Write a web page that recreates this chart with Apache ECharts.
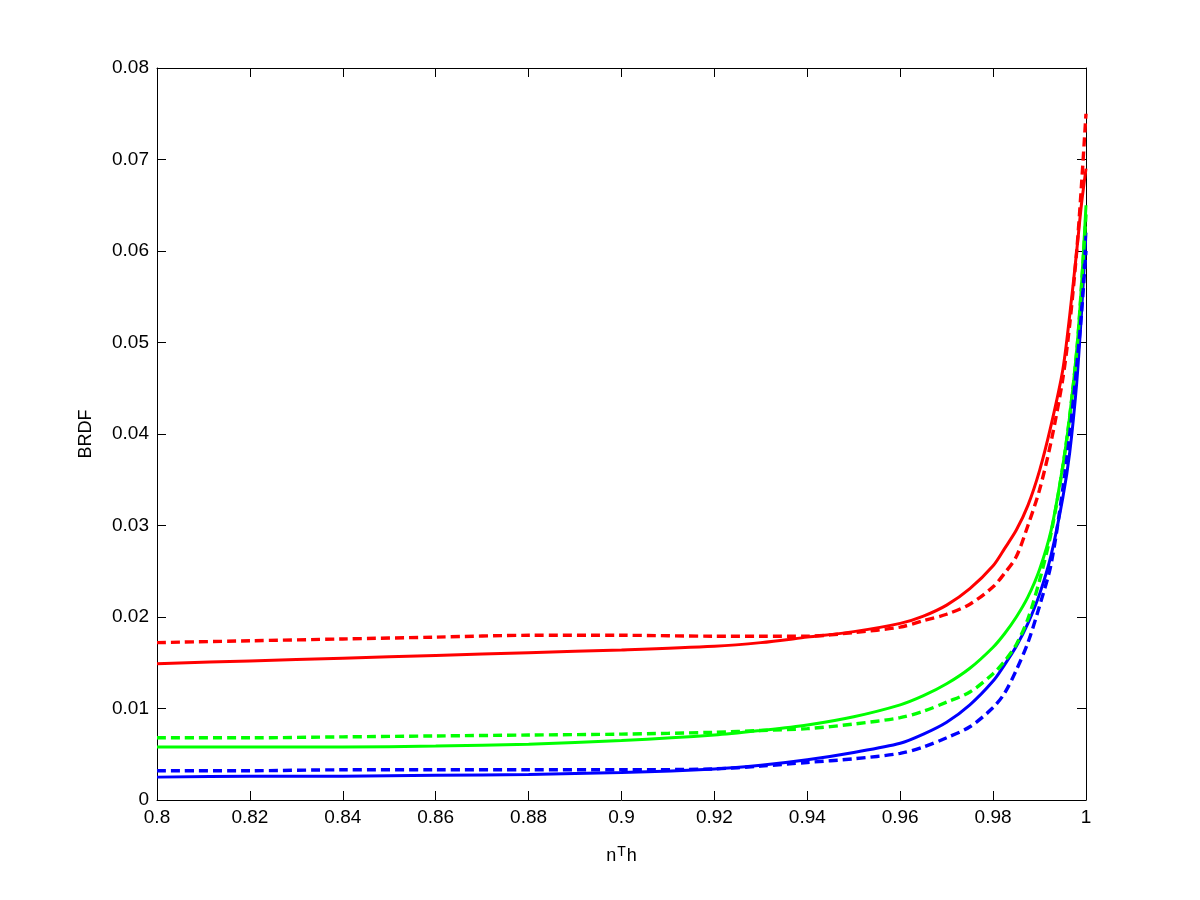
<!DOCTYPE html>
<html>
<head>
<meta charset="utf-8">
<script src="https://cdn.jsdelivr.net/npm/echarts@6/dist/echarts.min.js"></script>
<style>html,body{margin:0;padding:0;background:#fff}#c{width:1200px;height:900px}</style>
</head>
<body>
<div id="c"></div>
<script>
const xs = [0.80,0.82,0.84,0.86,0.88,0.90,0.92,0.93,0.94,0.95,0.96,0.965,0.97,0.975,0.98,0.9825,0.985,0.9875,0.99,0.9925,0.995,0.9965,0.998,0.999,1.0];
const redSolid   = [0.0149,0.0152,0.0155,0.0158,0.0161,0.0164,0.0168,0.0172,0.0178,0.0184,0.0193,0.0201,0.0213,0.0231,0.0256,0.0275,0.0295,0.0322,0.0360,0.0410,0.0470,0.0530,0.0600,0.0650,0.0690];
const redDashed  = [0.0172,0.0174,0.0176,0.0178,0.0180,0.0180,0.0179,0.0179,0.0179,0.0183,0.0189,0.0196,0.0203,0.0214,0.0233,0.0248,0.0266,0.0300,0.0339,0.0392,0.0460,0.0520,0.0600,0.0670,0.0750];
const greenSolid = [0.0058,0.0058,0.0058,0.0059,0.0061,0.0065,0.0071,0.0076,0.0082,0.0091,0.0104,0.0114,0.0127,0.0144,0.0167,0.0182,0.0200,0.0222,0.0252,0.0295,0.0365,0.0420,0.0492,0.0560,0.0650];
const greenDashed= [0.0068,0.0068,0.0069,0.0070,0.0071,0.0072,0.0074,0.0076,0.0078,0.0083,0.0090,0.0097,0.0107,0.0118,0.0138,0.0152,0.0170,0.0198,0.0240,0.0292,0.0364,0.0420,0.0490,0.0560,0.0640];
const blueSolid  = [0.0025,0.0026,0.0026,0.0027,0.0028,0.0030,0.0034,0.0038,0.0044,0.0052,0.0062,0.0072,0.0085,0.0104,0.0130,0.0148,0.0168,0.0193,0.0225,0.0268,0.0330,0.0380,0.0456,0.0530,0.0620];
const blueDashed = [0.0032,0.0032,0.0033,0.0033,0.0033,0.0033,0.0034,0.0037,0.0041,0.0045,0.0051,0.0058,0.0068,0.0080,0.0101,0.0117,0.0142,0.0172,0.0212,0.0258,0.0340,0.0400,0.0474,0.0530,0.0600];
const xTicks = [0.8,0.82,0.84,0.86,0.88,0.9,0.92,0.94,0.96,0.98,1];
const yTicks = [0,0.01,0.02,0.03,0.04,0.05,0.06,0.07,0.08];

const pairs = v => xs.map((x,i)=>[x,v[i]]);
const font = 'Liberation Sans, Arial, sans-serif';
function mk(data,color,dashed){
  return {type:'line',data:pairs(data),showSymbol:false,smooth:0.3,
    lineStyle:{color:color,width:dashed?3.4:3,type:dashed?[9,5]:'solid'},z:dashed?3:2,animation:false};
}
const chart = echarts.init(document.getElementById('c'));
const axisCommon = () => ({
  axisLine:{show:true,onZero:false,lineStyle:{color:'#000',width:1}},
  axisTick:{show:true,inside:true,length:9,lineStyle:{color:'#000',width:1}},
  splitLine:{show:false}
});
chart.setOption({
  backgroundColor:'#fff',
  animation:false,
  grid:{left:157,right:114,top:68,bottom:100,containLabel:false},
  xAxis:[
    Object.assign({type:'value',min:0.8,max:1,interval:0.02,position:'bottom',
      name:'{n|n}{sup|T}{n|h}',nameLocation:'middle',nameGap:45,
      nameTextStyle:{rich:{n:{fontSize:18,fontFamily:font,color:'#000',verticalAlign:'bottom',lineHeight:20},
                           sup:{fontSize:14,fontFamily:font,color:'#000',verticalAlign:'top',padding:[0,1,14,1],lineHeight:20}}},
      axisLabel:{color:'#000',fontSize:19,fontFamily:font,margin:8,
        formatter:v=>{const t=xTicks.find(a=>Math.abs(a-v)<1e-9);return t===undefined?'':String(t);}}},axisCommon()),
    Object.assign({type:'value',min:0.8,max:1,interval:0.02,position:'top',axisLabel:{show:false}},axisCommon())
  ],
  yAxis:[
    Object.assign({type:'value',min:0,max:0.08,interval:0.01,position:'left',
      name:'BRDF',nameLocation:'middle',nameGap:62,nameRotate:90,
      nameTextStyle:{color:'#000',fontSize:18,fontFamily:font},
      axisLabel:{color:'#000',fontSize:19,fontFamily:font,margin:8,
        formatter:v=>{const t=yTicks.find(a=>Math.abs(a-v)<1e-9);return t===undefined?'':(t===0?'0':t.toFixed(2));}}},axisCommon()),
    Object.assign({type:'value',min:0,max:0.08,interval:0.01,position:'right',axisLabel:{show:false}},axisCommon())
  ],
  series:[
    mk(redDashed,'#ff0000',true),
    mk(redSolid,'#ff0000',false),
    mk(greenDashed,'#00ff00',true),
    mk(greenSolid,'#00ff00',false),
    mk(blueDashed,'#0000ff',true),
    mk(blueSolid,'#0000ff',false)
  ]
});
</script>
</body>
</html>
